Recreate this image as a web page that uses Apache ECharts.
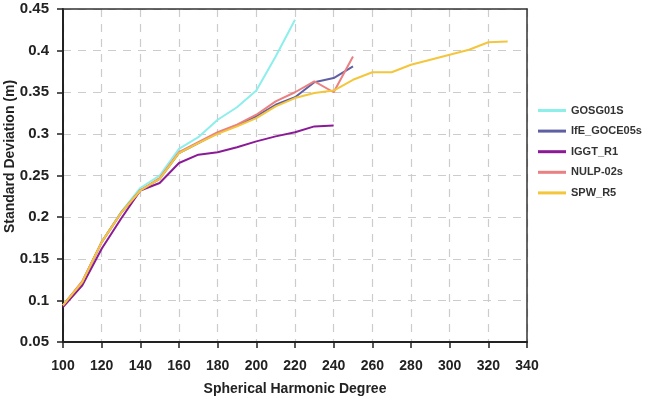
<!DOCTYPE html>
<html>
<head>
<meta charset="utf-8">
<script src="https://cdn.jsdelivr.net/npm/echarts@6/dist/echarts.min.js"></script>
<style>
  html, body { margin: 0; padding: 0; background: #fff; }
  #main { width: 645px; height: 396px; }
</style>
</head>
<body>
<div id="main"></div>
<script>
// degree values (step 10)
var degrees = [100, 110, 120, 130, 140, 150, 160, 170, 180, 190, 200, 210, 220, 230, 240, 250, 260, 270, 280, 290, 300, 310, 320, 330];

var gosg01s = [0.094, 0.122, 0.170, 0.206, 0.235, 0.250, 0.282, 0.296, 0.317, 0.332, 0.352, 0.393, 0.437];
var ifeGoce05s = [0.094, 0.122, 0.170, 0.205, 0.232, 0.246, 0.277, 0.289, 0.301, 0.310, 0.321, 0.335, 0.344, 0.362, 0.367, 0.381];
var iggtR1 = [0.092, 0.118, 0.162, 0.198, 0.232, 0.241, 0.265, 0.275, 0.278, 0.284, 0.291, 0.297, 0.302, 0.309, 0.310];
var nulp02s = [0.094, 0.123, 0.170, 0.205, 0.232, 0.247, 0.278, 0.290, 0.302, 0.311, 0.323, 0.339, 0.350, 0.363, 0.350, 0.393];
var spwR5 = [0.094, 0.122, 0.170, 0.205, 0.232, 0.246, 0.277, 0.289, 0.300, 0.309, 0.319, 0.333, 0.343, 0.349, 0.352, 0.365, 0.374, 0.374, 0.383, 0.389, 0.395, 0.401, 0.410, 0.411];

var names = ['GOSG01S', 'IfE_GOCE05s', 'IGGT_R1', 'NULP-02s', 'SPW_R5'];
var colors = ['#8cefec', '#5f5fa3', '#8a1a96', '#ea8080', '#f4c63c'];

function pairs(vals) {
    var out = [];
    for (var i = 0; i < vals.length; i++) {
        out.push([degrees[i], vals[i]]);
    }
    return out;
}

var myChart = echarts.init(document.getElementById('main'));

var allData = [gosg01s, ifeGoce05s, iggtR1, nulp02s, spwR5];
var series = [];
for (var k = 0; k < names.length; k++) {
    series.push({
        name: names[k],
        type: 'line',
        data: pairs(allData[k]),
        symbol: 'none',
        lineStyle: { width: 2, color: colors[k] },
        itemStyle: { color: colors[k] }
    });
}

var labelFont = { fontFamily: 'Liberation Sans', fontWeight: 'bold', color: '#222' };

// plain frame lines for top and right (no labels)
var frameAxis = {
    axisLine: { show: true, lineStyle: { color: '#333', width: 1.5 } },
    axisTick: { show: false },
    axisLabel: { show: false },
    splitLine: { show: false }
};

var option = {
    backgroundColor: '#FFFFFF',
    animation: false,
    grid: {
        left: 63,
        right: 118,
        top: 9,
        bottom: 54,
        containLabel: false,
        outerBoundsMode: 'none'
    },
    legend: {
        orient: 'vertical',
        left: 533,
        top: 99,
        itemWidth: 28,
        itemHeight: 3,
        itemGap: 7.6,
        icon: 'rect',
        textStyle: { fontFamily: 'Liberation Sans', fontWeight: 'bold', fontSize: 11, color: '#333', lineHeight: 13 },
        data: names
    },
    xAxis: [{
        type: 'value',
        min: 100,
        max: 340,
        interval: 20,
        name: 'Spherical Harmonic Degree',
        nameLocation: 'middle',
        nameGap: 40,
        nameMoveOverlap: false,
        nameTextStyle: { fontFamily: 'Liberation Sans', fontWeight: 'bold', fontSize: 14, color: '#222' },
        axisLine: { lineStyle: { color: '#222', width: 2 } },
        axisTick: { show: true, length: 6, lineStyle: { color: '#222', width: 1.5 } },
        axisLabel: Object.assign({ fontSize: 14, margin: 17 }, labelFont),
        splitLine: {
            show: true,
            lineStyle: { color: '#ccc', type: [8, 7], width: 1.2 }
        }
    }, Object.assign({ type: 'value', position: 'top', min: 100, max: 340 }, frameAxis)],
    yAxis: [{
        type: 'value',
        min: 0.05,
        max: 0.45,
        interval: 0.05,
        name: 'Standard Deviation (m)',
        nameLocation: 'middle',
        nameGap: 46,
        nameMoveOverlap: false,
        nameTextStyle: { fontFamily: 'Liberation Sans', fontWeight: 'bold', fontSize: 14, color: '#222', padding: [0, 0, 0, 38] },
        axisLine: { show: true, lineStyle: { color: '#222', width: 2 } },
        axisTick: { show: true, length: 6, lineStyle: { color: '#222', width: 1.5 } },
        axisLabel: Object.assign({
            fontSize: 15,
            margin: 14,
            formatter: function (v) { return String(+v.toFixed(2)); }
        }, labelFont),
        splitLine: {
            show: true,
            lineStyle: { color: '#ccc', type: [8, 7], width: 1.2 }
        }
    }, Object.assign({ type: 'value', position: 'right', min: 0.05, max: 0.45 }, frameAxis)],
    series: series
};

myChart.setOption(option);
</script>
</body>
</html>
